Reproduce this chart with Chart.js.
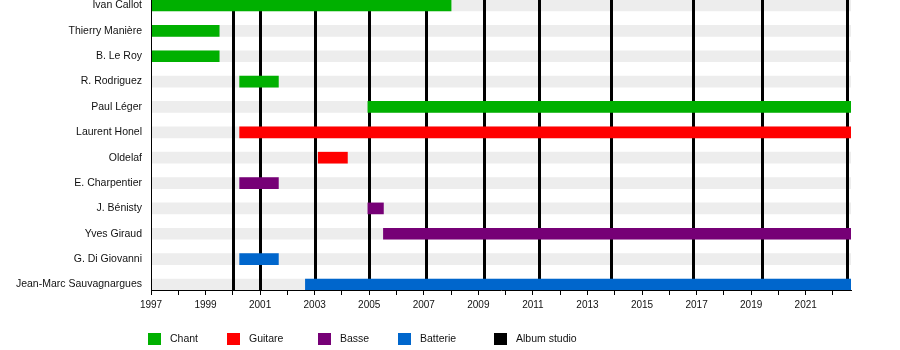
<!DOCTYPE html>
<html>
<head>
<meta charset="utf-8">
<title>Membres</title>
<script src="https://cdn.jsdelivr.net/npm/chart.js@4/dist/chart.umd.min.js"></script>
<style>
  body { margin: 0; background: #fff; }
  canvas { display: block; }
</style>
</head>
<body>
<canvas id="timeline" width="900" height="350"></canvas>
<script>
// Band members, top to bottom
var members = [
  "Ivan Callot", "Thierry Manière", "B. Le Roy", "R. Rodriguez",
  "Paul Léger", "Laurent Honel", "Oldelaf", "E. Charpentier",
  "J. Bénisty", "Yves Giraud", "G. Di Giovanni", "Jean-Marc Sauvagnargues"
];

var startYear = 1997;
var endYear = 2022.66;

// Periods per role: [member, from, to]
var chant = [
  ["Ivan Callot", 1997, 2008.0],
  ["Thierry Manière", 1997, 1999.5],
  ["B. Le Roy", 1997, 1999.5],
  ["R. Rodriguez", 2000.25, 2001.67],
  ["Paul Léger", 2004.95, 2022.66]
];
var guitare = [
  ["Laurent Honel", 2000.25, 2022.66],
  ["Oldelaf", 2003.13, 2004.2]
];
var basse = [
  ["E. Charpentier", 2000.25, 2001.67],
  ["J. Bénisty", 2004.95, 2005.52],
  ["Yves Giraud", 2005.52, 2022.66]
];
var batterie = [
  ["G. Di Giovanni", 2000.25, 2001.67],
  ["Jean-Marc Sauvagnargues", 2002.66, 2022.66]
];

// Studio album releases
var albums = [2000.0, 2001.0, 2003.0, 2005.0, 2007.07, 2009.2, 2011.24, 2013.86, 2016.85, 2019.4, 2022.5];

var yearTicks = [1997, 1998, 1999, 2000, 2001, 2002, 2003, 2004, 2005, 2006, 2007, 2008, 2009,
  2010, 2011, 2012, 2013, 2014, 2015, 2016, 2017, 2018, 2019, 2020, 2021, 2022];
var tickLabels = ["1997", "1999", "2001", "2003", "2005", "2007", "2009", "2011",
  "2013", "2015", "2017", "2019", "2021"];

var roles = [
  { label: "Chant", color: "#00b000", rows: chant },
  { label: "Guitare", color: "#ff0000", rows: guitare },
  { label: "Basse", color: "#760076", rows: basse },
  { label: "Batterie", color: "#0066cc", rows: batterie }
];

var FONT = "'Liberation Sans', Arial, sans-serif";

function toPoints(rows) {
  return rows.map(function (r) {
    return { y: members.indexOf(r[0]), x: [r[1], r[2]] };
  });
}

var datasets = roles.map(function (role) {
  return {
    label: role.label,
    data: toPoints(role.rows),
    backgroundColor: role.color,
    barThickness: 11,
    grouped: false,
    borderWidth: 0
  };
});

// light grey track behind every row (last dataset is drawn first)
datasets.push({
  label: "track",
  data: members.map(function (m, i) { return { y: i, x: [startYear, endYear] }; }),
  backgroundColor: "#ededed",
  barThickness: 11,
  grouped: false,
  borderWidth: 0
});
var trackIndex = datasets.length - 1;

// vertical album lines, drawn right after the grey tracks
var albumLines = {
  id: "albumLines",
  afterDatasetDraw: function (chart, args) {
    if (args.index !== trackIndex) return;
    var ctx = chart.ctx;
    var area = chart.chartArea;
    var xs = chart.scales.x;
    ctx.save();
    ctx.strokeStyle = "#000";
    ctx.lineWidth = 3;
    albums.forEach(function (yr) {
      var px = Math.round(xs.getPixelForValue(yr)) + 0.5;
      ctx.beginPath();
      ctx.moveTo(px, area.top);
      ctx.lineTo(px, area.bottom);
      ctx.stroke();
    });
    ctx.restore();
  }
};

// legend row under the axis
var legendXs = [148, 227, 318, 398, 494];
var bottomLegend = {
  id: "bottomLegend",
  afterDraw: function (chart) {
    var ctx = chart.ctx;
    var items = roles.map(function (r) { return { label: r.label, color: r.color }; });
    items.push({ label: "Album studio", color: "#000" });
    ctx.save();
    ctx.font = "10.5px " + FONT;
    ctx.textBaseline = "middle";
    items.forEach(function (it, i) {
      var x = legendXs[i];
      ctx.fillStyle = it.color;
      ctx.fillRect(x, 333, 13, 12);
      ctx.fillStyle = "#111";
      ctx.fillText(it.label, x + 22, 339.5);
    });
    ctx.restore();
  }
};

var ctx = document.getElementById("timeline").getContext("2d");
new Chart(ctx, {
  type: "bar",
  data: { datasets: datasets },
  plugins: [albumLines, bottomLegend],
  options: {
    indexAxis: "y",
    responsive: false,
    animation: false,
    layout: { padding: { top: 0, right: 49, bottom: 0, left: 0 } },
    plugins: {
      legend: { display: false },
      tooltip: { enabled: false }
    },
    scales: {
      y: {
        type: "linear",
        reverse: true,
        offset: false,
        min: -0.2165,
        max: 11.2165,
        afterBuildTicks: function (scale) {
          scale.ticks = members.map(function (m, i) { return { value: i }; });
        },
        afterFit: function (scale) {
          scale.width = 151;
          scale.paddingTop = 0;
          scale.paddingBottom = 0;
        },
        grid: { display: false, drawTicks: false, offset: false },
        border: { display: true, color: "#000", width: 1, z: 1 },
        ticks: {
          padding: 9,
          color: "#111",
          font: { family: FONT, size: 10.5 },
          autoSkip: false,
          callback: function (v) { return members[v]; }
        }
      },
      x: {
        type: "linear",
        min: startYear,
        max: endYear,
        afterBuildTicks: function (scale) {
          scale.ticks = yearTicks.map(function (y) { return { value: y }; });
        },
        afterFit: function (scale) {
          scale.height = 60;
        },
        grid: { display: true, drawOnChartArea: false, drawTicks: true, tickLength: 5, color: "#000" },
        border: { display: true, color: "#000", width: 1, z: 1 },
        ticks: {
          padding: 4,
          color: "#111",
          font: { family: FONT, size: 10 },
          autoSkip: false,
          maxRotation: 0,
          callback: function (v) {
            var s = String(v);
            return tickLabels.indexOf(s) >= 0 ? s : "";
          }
        }
      }
    }
  }
});
</script>
</body>
</html>
